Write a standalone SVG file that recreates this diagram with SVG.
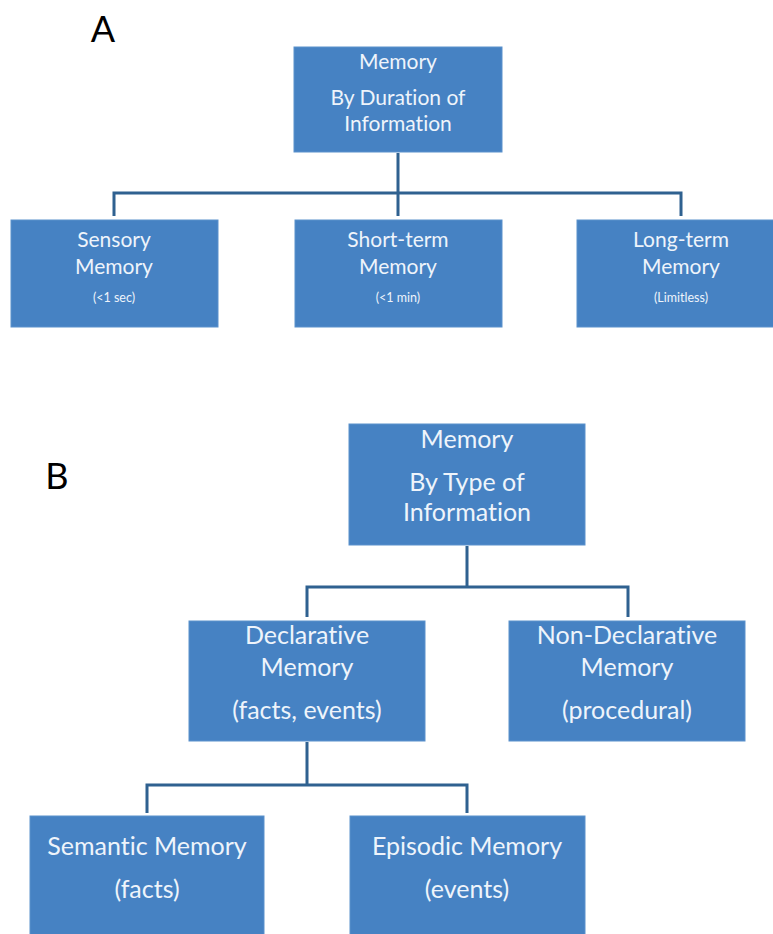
<svg xmlns="http://www.w3.org/2000/svg" width="773" height="934" viewBox="0 0 773 934">
<style>
.box{fill:#4682c3;stroke:#5b91cc;stroke-width:1}
.t{font-family:Lato,"Open Sans","Liberation Sans",sans-serif;fill:#eef4fb;text-anchor:middle;font-variant-ligatures:none}
.a{font-size:21px}
.s{font-size:12.5px}
.b{font-size:25px}
.lbl{font-family:Lato,"Liberation Sans",sans-serif;font-size:36px;fill:#000}
.c{fill:none;stroke:#2f6190;stroke-width:3}
</style>
<rect width="773" height="934" fill="#fff"/>
<text class="lbl" x="103" y="42" text-anchor="middle">A</text>
<text class="lbl" x="57" y="489" text-anchor="middle">B</text>
<g id="connectors">
<path class="c" d="M398 153V193M114 216V193H681V216M398 193V216"/>
<path class="c" d="M467 546V587M307 617V587H628V617"/>
<path class="c" d="M307 742V785M147 813V785H467V813"/>
</g>
<g id="a-root"><rect class="box" x="294" y="47" width="208" height="105"/>
<text class="t a" x="398" y="69">Memory</text><text class="t a" x="398" y="105">By Duration of</text><text class="t a" x="398" y="131">Information</text></g>
<g id="a-sensory"><rect class="box" x="11" y="220" width="207" height="107"/>
<text class="t a" x="114" y="247">Sensory</text><text class="t a" x="114" y="274">Memory</text><text class="t s" x="114" y="302">(&lt;1 sec)</text></g>
<g id="a-short"><rect class="box" x="295" y="220" width="207" height="107"/>
<text class="t a" x="398" y="247">Short-term</text><text class="t a" x="398" y="274">Memory</text><text class="t s" x="398" y="302">(&lt;1 min)</text></g>
<g id="a-long"><rect class="box" x="577" y="220" width="208" height="107"/>
<text class="t a" x="681" y="247">Long-term</text><text class="t a" x="681" y="274">Memory</text><text class="t s" x="681" y="302">(Limitless)</text></g>
<g id="b-root"><rect class="box" x="349" y="424" width="236" height="121"/>
<text class="t b" x="467" y="448">Memory</text><text class="t b" x="467" y="491">By Type of</text><text class="t b" x="467" y="521">Information</text></g>
<g id="b-declarative"><rect class="box" x="189" y="621" width="236" height="120"/>
<text class="t b" x="307" y="644">Declarative</text><text class="t b" x="307" y="676">Memory</text><text class="t b" x="307" y="719">(facts, events)</text></g>
<g id="b-nondeclarative"><rect class="box" x="509" y="621" width="236" height="120"/>
<text class="t b" x="627" y="644">Non-Declarative</text><text class="t b" x="627" y="676">Memory</text><text class="t b" x="627" y="719">(procedural)</text></g>
<g id="b-semantic"><rect class="box" x="30" y="816" width="234" height="125"/>
<text class="t b" x="147" y="855">Semantic Memory</text><text class="t b" x="147" y="898">(facts)</text></g>
<g id="b-episodic"><rect class="box" x="350" y="816" width="235" height="125"/>
<text class="t b" x="467" y="855">Episodic Memory</text><text class="t b" x="467" y="898">(events)</text></g>
</svg>
